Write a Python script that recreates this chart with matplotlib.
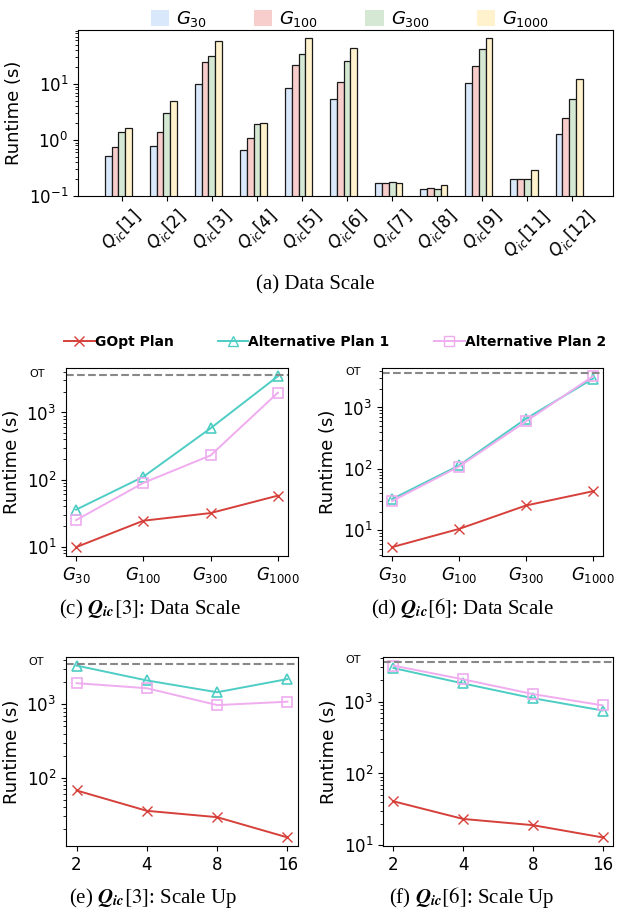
import matplotlib
matplotlib.use("Agg")
import matplotlib.pyplot as plt
from matplotlib.patches import Patch
from matplotlib.lines import Line2D
import numpy as np

# ---------------- data ----------------
queries = ['1', '2', '3', '4', '5', '6', '7', '8', '9', '11', '12']
scale_labels = [r'$G_{30}$', r'$G_{100}$', r'$G_{300}$', r'$G_{1000}$']
g30 = [0.51, 0.79, 10.0, 0.67, 8.4, 5.45, 0.174, 0.132, 10.4, 0.20, 1.26]
g100 = [0.75, 1.37, 24.8, 1.09, 22.2, 10.7, 0.174, 0.141, 20.8, 0.20, 2.52]
g300 = [1.37, 3.0, 31.9, 1.91, 34.0, 26.2, 0.178, 0.136, 42.6, 0.20, 5.45]
g1000 = [1.62, 5.0, 59.0, 2.02, 65.0, 44.4, 0.174, 0.158, 65.0, 0.29, 12.1]

series_names = ['GOpt Plan', 'Alternative Plan 1', 'Alternative Plan 2']
machines = ['2', '4', '8', '16']
ot_value = 3600

# (c) Q3 data scale
c_gopt = [9.8, 24.3, 31.6, 57.5]
c_alt1 = [35.5, 110, 582, 3467]
c_alt2 = [24.8, 89, 229, 1972]
# (d) Q6 data scale
d_gopt = [5.3, 10.5, 25.3, 43.2]
d_alt1 = [32.2, 113.5, 657, 2950]
d_alt2 = [29.8, 109, 593, 3230]
# (e) Q3 scale up
e_gopt = [66.9, 35.3, 28.9, 15.3]
e_alt1 = [3388, 2125, 1466, 2218]
e_alt2 = [1950, 1663, 979, 1089]
# (f) Q6 scale up
f_gopt = [41.0, 23.3, 19.1, 12.9]
f_alt1 = [2930, 1788, 1116, 752]
f_alt2 = [3170, 2040, 1273, 887]

# ---------------- style ----------------
W, H = 630, 914
fig = plt.figure(figsize=(W / 100, H / 100), dpi=100)

bar_colors = ['#dae8fc', '#f8cecc', '#d5e8d4', '#fff2cc']
line_colors = ['#d6403a', '#4ecdc4', '#efacef']
markers = ['x', '^', 's']


def fr(left, top, right, bottom):
    return [left / W, 1 - bottom / H, (right - left) / W, (bottom - top) / H]


# ---------------- top bar chart ----------------
ax = fig.add_axes(fr(78, 30, 613, 196))
ax.set_yscale('log')
x = np.arange(len(queries))
w = 0.15
for i, vals in enumerate([g30, g100, g300, g1000]):
    ax.bar(x + (i - 2) * w, vals, width=w, color=bar_colors[i],
           edgecolor='#1a1a1a', linewidth=0.9)
ax.set_ylim(0.1, 92)
ax.set_xlim(-0.97, 10.9)
ax.set_xticks(x)
ax.set_xticklabels([r'$Q_{ic}$[' + q + ']' for q in queries], rotation=45, fontsize=12)
ax.tick_params(axis='y', labelsize=12)
ax.set_ylabel('Runtime (s)', fontsize=13)

handles = [Patch(facecolor=c, edgecolor='none') for c in bar_colors]
fig.legend(handles, scale_labels, loc='center', bbox_to_anchor=(350 / W, 1 - 19 / H),
           ncol=4, frameon=False, fontsize=13, handlelength=1.0, handleheight=1.0,
           columnspacing=2.6, handletextpad=0.4)

fig.text(315 / W, 1 - 285 / H, '(a) Data Scale', ha='center', va='center',
         fontsize=15, family='Liberation Serif')

# ---------------- line charts ----------------
def line_panel(rect, gopt, alt1, alt2, labels):
    a = fig.add_axes(rect)
    a.set_yscale('log')
    xs = np.arange(len(labels))
    for vals, col, mk in zip([gopt, alt1, alt2], line_colors, markers):
        if mk == 'x':
            a.plot(xs, vals, color=col, marker=mk, markersize=7, linewidth=1.4)
        else:
            a.plot(xs, vals, color=col, marker=mk, markersize=7, linewidth=1.4,
                   markerfacecolor='none', markeredgewidth=1.2)
    a.axhline(ot_value, color='#888888', linestyle='--', linewidth=1.5)
    a.set_xticks(xs)
    a.set_xticklabels(labels, fontsize=12)
    a.tick_params(axis='y', labelsize=12)
    a.set_ylabel('Runtime (s)', fontsize=13)
    a.text(-0.13, ot_value * 1.05, 'OT', transform=a.get_yaxis_transform(),
           ha='center', va='center', fontsize=8)
    return a


line_panel(fr(66, 367.7, 288, 555.7), c_gopt, c_alt1, c_alt2, scale_labels)
line_panel(fr(382, 367.7, 603, 555.7), d_gopt, d_alt1, d_alt2, scale_labels)
line_panel(fr(66, 657, 298, 846), e_gopt, e_alt1, e_alt2, machines)
line_panel(fr(383, 657, 613, 846), f_gopt, f_alt1, f_alt2, machines)

lhandles = []
for col, mk in zip(line_colors, markers):
    if mk == 'x':
        lhandles.append(Line2D([], [], color=col, marker=mk, markersize=7, linewidth=1.4))
    else:
        lhandles.append(Line2D([], [], color=col, marker=mk, markersize=7, linewidth=1.4,
                               markerfacecolor='none'))
fig.legend(lhandles, series_names, loc='center', bbox_to_anchor=(335 / W, 1 - 341.7 / H),
           ncol=3, frameon=False, prop={'weight': 'bold', 'size': 10},
           handlelength=2.2, handletextpad=0.0, columnspacing=3.2)

caps = [
    (150, 609, '(c) ', '3', 'Data Scale'),
    (462, 609, '(d) ', '6', 'Data Scale'),
    (153, 898, '(e) ', '3', 'Scale Up'),
    (472, 898, '(f) ', '6', 'Scale Up'),
]
for cx, cy, pre, q, post in caps:
    fig.text(cx / W, 1 - cy / H,
             pre + r'$\mathbfit{Q}_{\mathbfit{ic}}[' + q + ']$: ' + post,
             ha='center', va='center', fontsize=15, family='Liberation Serif',
             math_fontfamily='stix')

fig.savefig('out.png', dpi=100)
